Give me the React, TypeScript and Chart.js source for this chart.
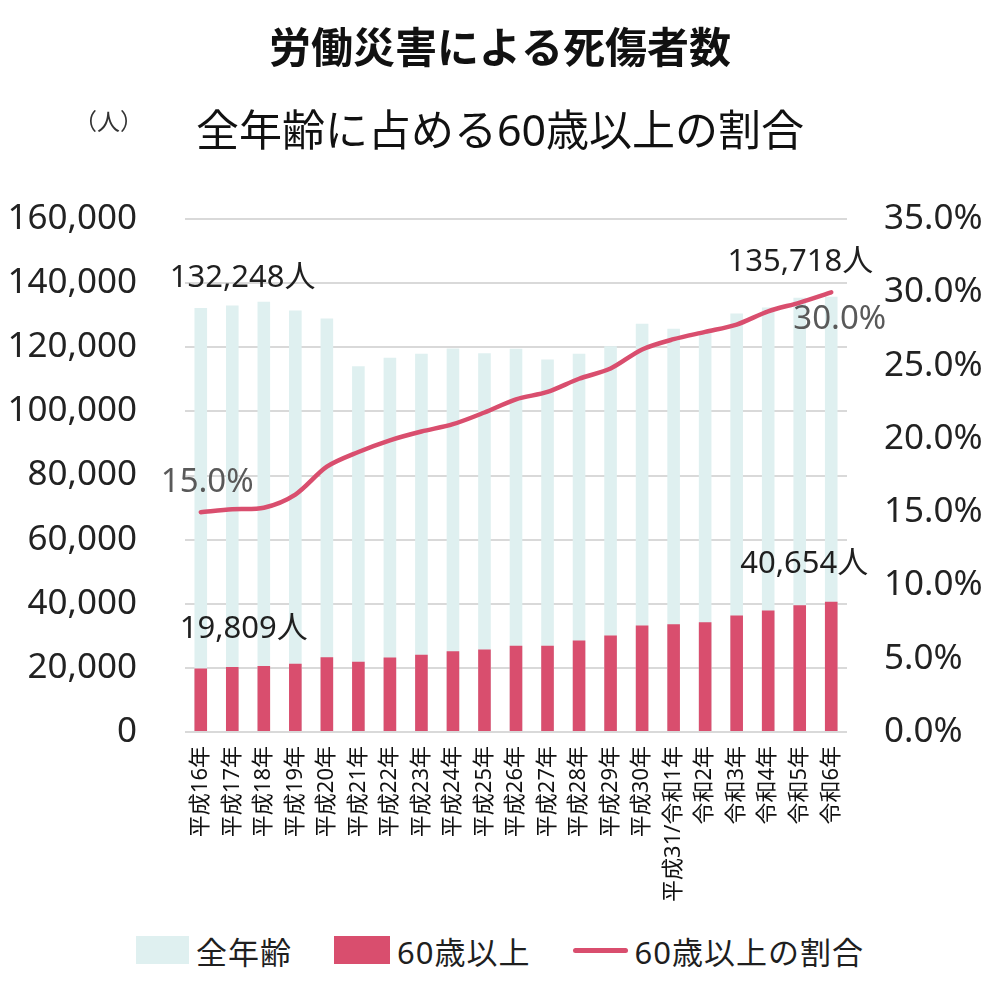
import React, { useEffect, useRef } from 'react';
import Chart from 'chart.js/auto';

const FONT = "'Noto Sans', 'Noto Sans CJK JP', sans-serif";

// 年次
const categories = [
  '平成16年', '平成17年', '平成18年', '平成19年', '平成20年', '平成21年', '平成22年',
  '平成23年', '平成24年', '平成25年', '平成26年', '平成27年', '平成28年', '平成29年',
  '平成30年', '平成31/令和1年', '令和2年', '令和3年', '令和4年', '令和5年', '令和6年',
];

// 死傷者数（全年齢）
const allAges = [
  132248, 133000, 134200, 131500, 129000, 114100, 116700,
  118000, 119600, 118100, 119500, 116200, 118000, 120300,
  127300, 125800, 125100, 130500, 132400, 135400, 135718,
];

// 死傷者数（60歳以上）
const over60 = [
  19809, 20300, 20600, 21300, 23300, 21900, 23200,
  24100, 25200, 25700, 26900, 26900, 28500, 30100,
  33200, 33600, 34200, 36300, 37900, 39500, 40654,
];

// 60歳以上の割合（%）
const over60Share = [
  15.0, 15.2, 15.3, 16.2, 18.1, 19.1, 19.9,
  20.5, 21.0, 21.8, 22.7, 23.2, 24.1, 24.8,
  26.1, 26.8, 27.3, 27.8, 28.7, 29.3, 30.0,
];

const legendItems = ['全年齢', '60歳以上', '60歳以上の割合'];

const LIGHT = '#dff0f0';
const PINK = '#d94e6e';

// annotation placement for first / last values
const callouts = [
  { ds: 0, index: 0, dx: -31, dy: -30, align: 'left' },
  { ds: 1, index: 0, dx: -21, dy: -39, align: 'left' },
  { ds: 2, index: 0, dx: -40, dy: -30, align: 'left' },
  { ds: 0, index: 20, dx: 42, dy: -35, align: 'right' },
  { ds: 1, index: 20, dx: 37, dy: -37, align: 'right' },
  { ds: 2, index: 20, dx: 55, dy: 27, align: 'right' },
];

const calloutPlugin = {
  id: 'callouts',
  afterDatasetsDraw(chart: any) {
    const { ctx } = chart;
    ctx.save();
    ctx.textBaseline = 'middle';
    callouts.forEach((c) => {
      const el = chart.getDatasetMeta(c.ds).data[c.index];
      if (!el) return;
      const v = chart.data.datasets[c.ds].data[c.index] as number;
      const isShare = c.ds === 2;
      const text = isShare ? v.toFixed(1) + '%' : v.toLocaleString('en-US') + '人';
      ctx.font = `${isShare ? 33 : 31}px ${FONT}`;
      ctx.fillStyle = isShare ? '#595959' : '#1f1f1f';
      ctx.textAlign = c.align;
      ctx.fillText(text, el.x + c.dx, el.y + c.dy);
    });
    ctx.restore();
  },
  afterDraw(chart: any) {
    // unit label above the left axis
    const { ctx, chartArea } = chart;
    ctx.save();
    ctx.font = `23px ${FONT}`;
    ctx.fillStyle = '#333';
    ctx.textAlign = 'right';
    ctx.textBaseline = 'middle';
    ctx.fillText('（人）', chartArea.left - 42, 123);
    ctx.restore();
  },
};

const App: React.FC = () => {
  const canvasRef = useRef<HTMLCanvasElement>(null);
  const chartRef = useRef<Chart | null>(null);

  useEffect(() => {
    document.body.style.margin = '0';
    if (chartRef.current) chartRef.current.destroy();
    if (!canvasRef.current) return;

    chartRef.current = new Chart(canvasRef.current, {
      type: 'bar',
      data: {
        labels: categories,
        datasets: [
          {
            type: 'bar',
            label: legendItems[0],
            data: allAges,
            backgroundColor: LIGHT,
            borderWidth: 0,
            categoryPercentage: 0.8,
            barPercentage: 0.5,
            order: 2,
            yAxisID: 'y',
          },
          {
            type: 'bar',
            label: legendItems[1],
            data: over60,
            backgroundColor: PINK,
            borderWidth: 0,
            categoryPercentage: 0.8,
            barPercentage: 0.5,
            order: 1,
            yAxisID: 'y',
          },
          {
            type: 'line',
            label: legendItems[2],
            data: over60Share,
            borderColor: PINK,
            backgroundColor: PINK,
            borderWidth: 4.5,
            borderCapStyle: 'round',
            tension: 0.3,
            pointRadius: 0,
            order: 0,
            yAxisID: 'y1',
          },
        ],
      } as any,
      options: {
        animation: false,
        responsive: false,
        layout: { padding: 0 },
        plugins: {
          legend: { display: false },
          tooltip: { enabled: false },
          title: {
            display: true,
            text: '労働災害による死傷者数',
            color: '#111',
            font: { family: FONT, size: 42, weight: 'bold' },
            padding: { top: 26, bottom: 0 },
          },
          subtitle: {
            display: true,
            text: '全年齢に占める60歳以上の割合',
            color: '#111',
            font: { family: FONT, size: 43, weight: 'normal' },
            padding: { top: 32, bottom: 59 },
          },
        },
        scales: {
          x: {
            stacked: true,
            grid: { display: false, drawTicks: false },
            border: { display: false },
            afterFit: (s: any) => { s.height = 188; },
            ticks: {
              autoSkip: false,
              minRotation: 90,
              maxRotation: 90,
              padding: 14,
              color: '#111',
              font: { family: FONT, size: 22 },
            },
          },
          y: {
            position: 'left',
            stacked: false,
            min: 0,
            max: 160000,
            afterFit: (s: any) => { s.width = 185; },
            grid: { color: '#d9d9d9', lineWidth: 2, drawTicks: false },
            border: { display: false },
            ticks: {
              stepSize: 20000,
              padding: 48,
              color: '#222',
              font: { family: FONT, size: 35 },
              callback: (v: any) => Number(v).toLocaleString('en-US'),
            },
          },
          y1: {
            position: 'right',
            min: 0,
            max: 35,
            afterFit: (s: any) => { s.width = 153; },
            grid: { drawOnChartArea: false, drawTicks: false },
            border: { display: false },
            ticks: {
              stepSize: 5,
              padding: 37,
              color: '#222',
              font: { family: FONT, size: 35 },
              callback: (v: any) => Number(v).toFixed(1) + '%',
            },
          },
        },
      } as any,
      plugins: [calloutPlugin],
    });

    return () => { if (chartRef.current) chartRef.current.destroy(); };
  }, []);

  const swatch = (i: number) => {
    if (i === 2) {
      return <span style={{ display: 'inline-block', width: 55, height: 5, borderRadius: 3, background: PINK, marginRight: 7 }} />;
    }
    return <span style={{ display: 'inline-block', width: i === 0 ? 53 : 56, height: 28, background: i === 0 ? LIGHT : PINK, marginRight: 7 }} />;
  };

  return (
    <div style={{ width: 1000, height: 990, background: '#fff' }}>
      <canvas ref={canvasRef} width={1000} height={920} style={{ display: 'block', width: 1000, height: 920 }}></canvas>
      <div style={{ height: 60, display: 'flex', alignItems: 'center', justifyContent: 'center', fontFamily: FONT, fontSize: 31, color: '#1f1f1f' }}>
        {legendItems.map((t, i) => (
          <span key={t} style={{ display: 'flex', alignItems: 'center', marginRight: i < 2 ? 42 : 0 }}>
            {swatch(i)}
            <span style={{ letterSpacing: 1 }}>{t}</span>
          </span>
        ))}
      </div>
    </div>
  );
};

export default App;
